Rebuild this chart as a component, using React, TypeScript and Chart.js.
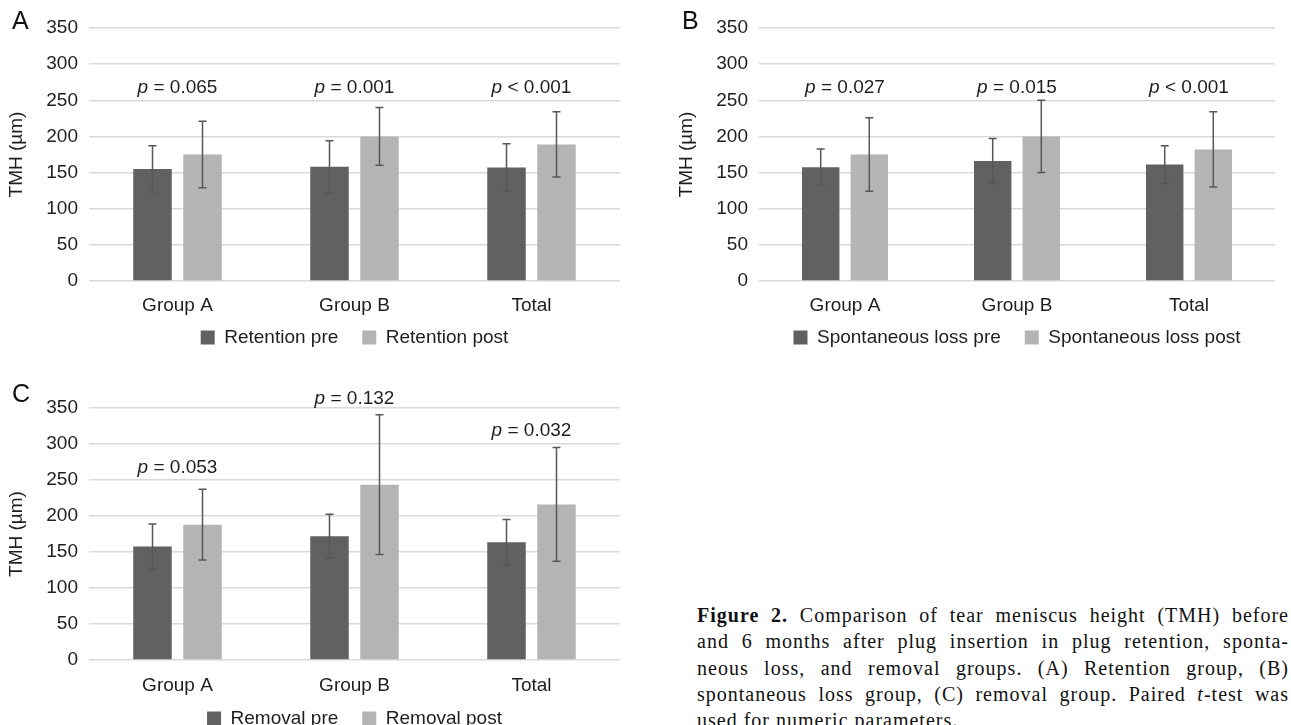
import React, { useEffect, useRef } from "react";
import { Chart, registerables } from "chart.js";

Chart.register(...registerables);

// ---------- data ----------
const categories = ["Group A", "Group B", "Total"];
const yTicks = [0, 50, 100, 150, 200, 250, 300, 350];

const retentionPre = [155, 158, 157];
const retentionPreSD = [32, 36, 33];
const retentionPost = [175, 200, 189];
const retentionPostSD = [46, 40, 45];
const retentionP = ["= 0.065", "= 0.001", "< 0.001"];
const retentionPAt = [267, 267, 267];

const spontPre = [157.5, 166, 161];
const spontPreSD = [25, 31, 26];
const spontPost = [175, 200, 182];
const spontPostSD = [51, 50, 52];
const spontP = ["= 0.027", "= 0.015", "< 0.001"];
const spontPAt = [267, 267, 267];

const removalPre = [157.5, 172, 163.5];
const removalPreSD = [31.5, 30.5, 31.5];
const removalPost = [188, 243.5, 216];
const removalPostSD = [49, 97, 79];
const removalP = ["= 0.053", "= 0.132", "= 0.032"];
const removalPAt = [267, 363, 318];

const FONT = "'Liberation Sans', Arial, sans-serif";
const DARK = "#616161";
const LIGHT = "#b4b4b4";
const TEXT = "#1e1e1e";

type PanelProps = {
  letter: string;
  letterBaseline: number;
  preLabel: string;
  postLabel: string;
  pre: number[];
  preSD: number[];
  post: number[];
  postSD: number[];
  pTexts: string[];
  pAt: number[];
  left: number;
  top: number;
  width: number;
  height: number;
  pad: { left: number; top: number; right: number; bottom: number };
  yWidth: number;
  xHeight: number;
  xPad: number;
};

function Panel(props: PanelProps) {
  const ref = useRef<HTMLCanvasElement | null>(null);
  useEffect(() => {
    if (!ref.current) return;
    const sds = [props.preSD, props.postSD];
    const errPlugin = {
      id: "errbars",
      afterLayout(chart: any) {
        // let the category labels draw below the (compact) axis box without clipping
        const s = chart.scales.x;
        s.bottom = s.top + 50;
        s.height = 50;
      },
      afterDatasetsDraw(chart: any) {
        const ctx = chart.ctx;
        const y = chart.scales.y;
        chart.data.datasets.forEach((ds: any, di: number) => {
          const meta = chart.getDatasetMeta(di);
          meta.data.forEach((bar: any, i: number) => {
            const m = ds.data[i];
            const s = sds[di][i];
            const yt = y.getPixelForValue(m + s);
            const yb = y.getPixelForValue(m - s);
            ctx.save();
            ctx.strokeStyle = "#575757";
            ctx.lineWidth = 1.5;
            ctx.beginPath();
            ctx.moveTo(bar.x, yt);
            ctx.lineTo(bar.x, yb);
            ctx.moveTo(bar.x - 4, yt);
            ctx.lineTo(bar.x + 4, yt);
            ctx.moveTo(bar.x - 4, yb);
            ctx.lineTo(bar.x + 4, yb);
            ctx.stroke();
            ctx.restore();
          });
        });
      },
    };
    const textPlugin = {
      id: "ptexts",
      afterDraw(chart: any) {
        const ctx = chart.ctx;
        const x = chart.scales.x;
        const y = chart.scales.y;
        ctx.save();
        ctx.fillStyle = TEXT;
        ctx.textBaseline = "middle";
        ctx.textAlign = "left";
        props.pTexts.forEach((t, i) => {
          const cx = x.getPixelForValue(i);
          const cy = y.getPixelForValue(props.pAt[i]);
          ctx.font = `italic 19px ${FONT}`;
          const w1 = ctx.measureText("p").width;
          ctx.font = `19px ${FONT}`;
          const rest = " " + t;
          const w2 = ctx.measureText(rest).width;
          const sx = cx - (w1 + w2) / 2;
          ctx.font = `italic 19px ${FONT}`;
          ctx.fillText("p", sx, cy);
          ctx.font = `19px ${FONT}`;
          ctx.fillText(rest, sx + w1, cy);
        });
        ctx.font = `25px ${FONT}`;
        ctx.textBaseline = "alphabetic";
        ctx.fillStyle = "#111";
        ctx.fillText(props.letter, 12, props.letterBaseline);
        ctx.restore();
      },
    };
    const chart = new Chart(ref.current, {
      type: "bar",
      data: {
        labels: categories,
        datasets: [
          {
            label: props.preLabel,
            data: props.pre,
            backgroundColor: DARK,
            borderWidth: 0,
            categoryPercentage: 0.565,
            barPercentage: 0.77,
          },
          {
            label: props.postLabel,
            data: props.post,
            backgroundColor: LIGHT,
            borderWidth: 0,
            categoryPercentage: 0.565,
            barPercentage: 0.77,
          },
        ],
      },
      options: {
        responsive: false,
        animation: false,
        devicePixelRatio: 1,
        layout: { padding: props.pad },
        scales: {
          x: {
            grid: { display: false, drawTicks: false },
            border: { display: false },
            ticks: { padding: props.xPad, color: TEXT, font: { family: FONT, size: 19 } },
            afterFit: (s: any) => {
              s.height = props.xHeight;
            },
          },
          y: {
            min: 0,
            max: 350,
            afterBuildTicks: (s: any) => {
              s.ticks = yTicks.map((v) => ({ value: v }));
            },
            grid: { color: "#d9d9d9", lineWidth: 1.5, drawTicks: false },
            border: { display: false },
            ticks: { padding: 11, color: TEXT, font: { family: FONT, size: 19 } },
            title: {
              display: true,
              text: "TMH (µm)",
              color: TEXT,
              font: { family: FONT, size: 19 },
              padding: 0,
            },
            afterFit: (s: any) => {
              s.width = props.yWidth;
            },
          },
        },
        plugins: {
          legend: {
            position: "bottom",
            fullSize: false,
            labels: {
              boxWidth: 14,
              boxHeight: 14,
              padding: 24,
              color: TEXT,
              font: { family: FONT, size: 19 },
            },
          },
          tooltip: { enabled: false },
        },
      } as any,
      plugins: [errPlugin, textPlugin],
    });
    return () => chart.destroy();
  }, []);
  return (
    <canvas
      ref={ref}
      width={props.width}
      height={props.height}
      style={{
        position: "absolute",
        left: props.left,
        top: props.top,
        width: props.width,
        height: props.height,
      }}
    />
  );
}

const capLine: React.CSSProperties = {
  whiteSpace: "nowrap",
  textAlign: "justify",
  textAlignLast: "justify",
  height: 26.3,
};

export default function App() {
  return (
    <div
      style={{
        position: "absolute",
        left: 0,
        top: 0,
        width: 1291,
        height: 725,
        overflow: "hidden",
        background: "#fff",
      }}
    >
      <Panel
        letter="A"
        letterBaseline={29}
        preLabel="Retention pre"
        postLabel="Retention post"
        pre={retentionPre}
        preSD={retentionPreSD}
        post={retentionPost}
        postSD={retentionPostSD}
        pTexts={retentionP}
        pAt={retentionPAt}
        left={0}
        top={0}
        width={640}
        height={360}
        pad={{ left: 5, top: 28, right: 20, bottom: 3 }}
        yWidth={84}
        xHeight={23}
        xPad={13}
      />
      <Panel
        letter="B"
        letterBaseline={29}
        preLabel="Spontaneous loss pre"
        postLabel="Spontaneous loss post"
        pre={spontPre}
        preSD={spontPreSD}
        post={spontPost}
        postSD={spontPostSD}
        pTexts={spontP}
        pAt={spontPAt}
        left={670}
        top={0}
        width={621}
        height={360}
        pad={{ left: 5, top: 28, right: 16, bottom: 3 }}
        yWidth={84}
        xHeight={23}
        xPad={13}
      />
      <Panel
        letter="C"
        letterBaseline={32}
        preLabel="Removal pre"
        postLabel="Removal post"
        pre={removalPre}
        preSD={removalPreSD}
        post={removalPost}
        postSD={removalPostSD}
        pTexts={removalP}
        pAt={removalPAt}
        left={0}
        top={370}
        width={640}
        height={370}
        pad={{ left: 5, top: 38, right: 20, bottom: 2 }}
        yWidth={84}
        xHeight={25}
        xPad={14}
      />
      <div
        style={{
          position: "absolute",
          left: 697,
          top: 602,
          width: 592,
          fontFamily: "'Liberation Serif', 'Times New Roman', serif",
          fontSize: 20,
          lineHeight: "26.3px",
          letterSpacing: "1px",
          color: "#111",
        }}
      >
        <div style={capLine}>
          <b>Figure 2.</b> Comparison of tear meniscus height (TMH) before
        </div>
        <div style={capLine}>and 6 months after plug insertion in plug retention, sponta-</div>
        <div style={capLine}>neous loss, and removal groups. (A) Retention group, (B)</div>
        <div style={capLine}>
          spontaneous loss group, (C) removal group. Paired <i>t</i>-test was
        </div>
        <div style={{ whiteSpace: "nowrap", height: 26.3 }}>used for numeric parameters.</div>
      </div>
    </div>
  );
}
